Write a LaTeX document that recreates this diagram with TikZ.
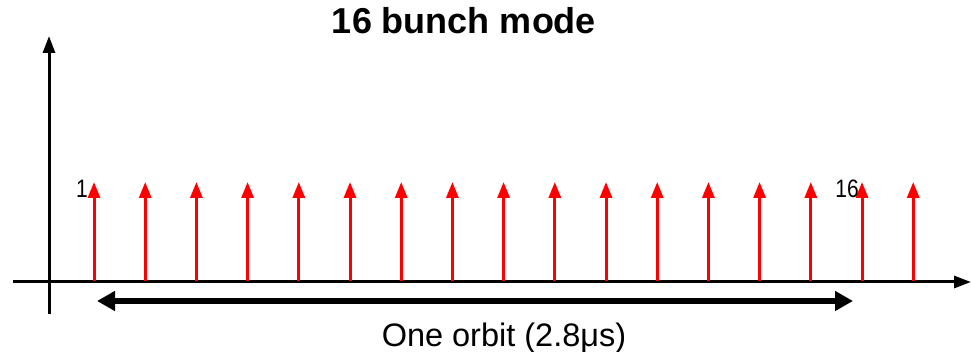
\documentclass[tikz,border=0pt]{standalone}
\usepackage{fontspec}
\setmainfont{Liberation Sans}
\usetikzlibrary{arrows.meta}
\begin{document}
\begin{tikzpicture}[x=1pt,y=-1pt,
  axis/.style={line width=3pt,-{Triangle[width=12pt,length=17pt]}},
  bunch/.style={red,line width=3pt,-{Triangle[width=12pt,length=16pt]}},
  orbit/.style={line width=6pt,{Triangle[width=19pt,length=18pt]}-{Triangle[width=19pt,length=18pt]}},
  lbl/.style={inner sep=0pt,anchor=base,yscale=1.2,font=\fontsize{21}{21}\selectfont}]
\useasboundingbox (0,0) rectangle (971,352);
% axes
\coordinate (yb) at (49,314);
\coordinate (yt) at (49,36);
\coordinate (xl) at (13,282);
\coordinate (xr) at (971,282);
\draw[axis] (yb) -- (yt);
\draw[axis] (xl) -- (xr);
% bunches
\foreach \i in {0,...,16}{
  \coordinate (b\i) at ({94+51.2*\i},281);
  \coordinate (t\i) at ({94+51.2*\i},182);
  \draw[bunch] (b\i) -- (t\i);
}
\node[lbl] (l1) at (82,198) {1};
\node[lbl] (l16) at (847,198) {16};
% orbit
\coordinate (ol) at (97,301);
\coordinate (or) at (853,301);
\draw[orbit] (ol) -- (or);
\node[inner sep=0pt,anchor=base,font=\fontsize{32.5}{32.5}\selectfont] (otext) at (504,346) {One orbit (2.8μs)};
\node[inner sep=0pt,anchor=base,font=\bfseries\fontsize{36}{36}\selectfont] (title) at (464,34) {16 bunch mode};
\end{tikzpicture}
\end{document}
